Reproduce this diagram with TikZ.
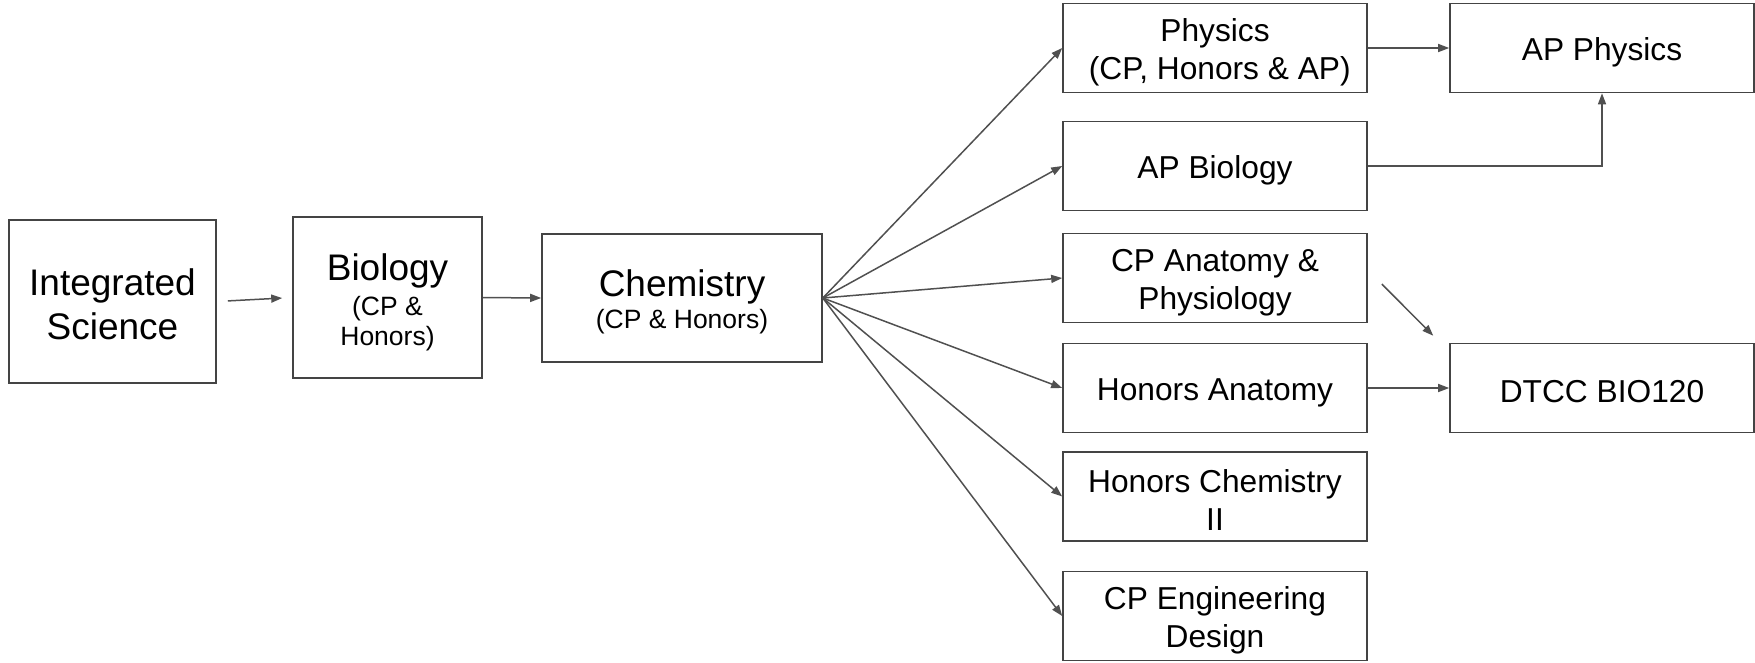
\documentclass[tikz,border=0pt]{standalone}
\usepackage{fontspec}
\setmainfont{Liberation Sans}
\usetikzlibrary{arrows.meta,calc}
\definecolor{boxline}{HTML}{444444}
\definecolor{arrline}{HTML}{505050}
\newcommand{\bigtxt}{\fontsize{37}{44}\selectfont}
\newcommand{\midtxt}{\fontsize{31.7}{38.5}\selectfont}
\newcommand{\smalltxt}{\fontsize{26.5}{30}\selectfont}
\newcommand{\tp}[1]{\rule{0pt}{#1}}
\begin{document}
\begin{tikzpicture}[x=1pt,y=-1pt,
  box/.style={draw=boxline,line width=1.6pt,rectangle,align=center,inner sep=0pt,text=black},
  rbox/.style={box,minimum width=304pt,minimum height=89pt,font=\midtxt},
  arr/.style={draw=arrline,line width=1.5pt,-{Triangle[length=11pt,width=8pt]}}]
\useasboundingbox (0,0) rectangle (1755,662);
\node[box,minimum width=207pt,minimum height=163pt,font=\bigtxt] (is) at (112.5,301.5) {\tp{31.5pt}Integrated\\Science};
\node[box,minimum width=189pt,minimum height=161pt,font=\smalltxt] (bio) at (387.5,297.5) {\tp{36pt}{\bigtxt Biology}\\[4.5pt](CP \&\\Honors)};
\node[box,minimum width=280pt,minimum height=128pt,font=\smalltxt] (chem) at (682,298) {\tp{34pt}{\bigtxt Chemistry}\\[2.5pt](CP \& Honors)};
\node[rbox] (phys) at (1215,48) {\tp{32pt}Physics\\\hspace*{0.3em}(CP, Honors \& AP)};
\node[rbox] (apphys) at (1602,48) {\tp{32pt}AP Physics};
\node[rbox] (apbio) at (1215,166) {\tp{32pt}AP Biology};
\node[rbox] (cpa) at (1215,278) {\tp{32pt}CP Anatomy \&\\Physiology};
\node[rbox] (ha) at (1215,388) {\tp{32pt}Honors Anatomy};
\node[rbox] (dtcc) at (1602,388) {\tp{30pt}DTCC BIO120};
\node[rbox] (hc2) at (1215,496.5) {\tp{30pt}Honors Chemistry\\II};
\node[rbox] (cpe) at (1215,616) {\tp{32pt}CP Engineering\\Design};
\draw[arr,shorten <=11pt,shorten >=10pt] (is.east) -- (bio.west);
\draw[arr] (bio.east) -- (chem.west);
\foreach \t in {phys,apbio,cpa,ha,hc2,cpe}{
  \draw[arr] (chem.east) -- (\t.west);
}
\draw[arr] (phys.east) -- (apphys.west);
\draw[arr] (apbio.east) -| (apphys.south);
\draw[arr] (ha.east) -- (dtcc.west);
\coordinate (d1) at ($(cpa.east)+(14,6)$);
\coordinate (d2) at ($(dtcc.north west)+(-16,-7)$);
\draw[arr] (d1) -- (d2);
\end{tikzpicture}
\end{document}
